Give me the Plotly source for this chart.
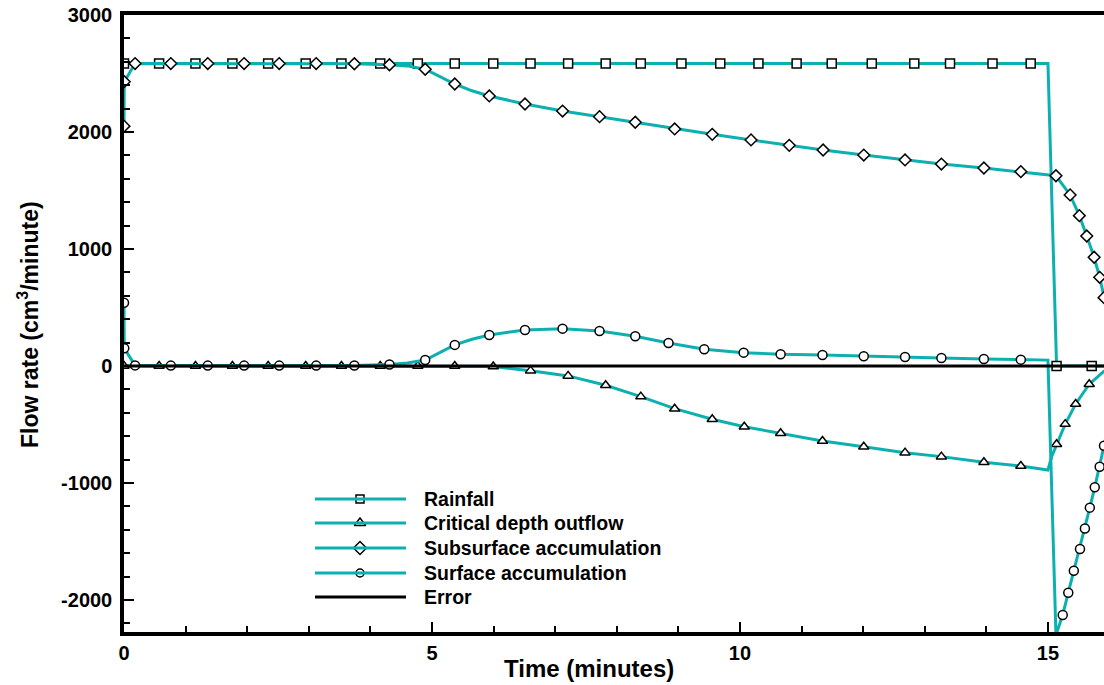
import plotly.graph_objects as go

# ---------------- data ----------------
rain_t = [0, 15.0, 15.14, 15.99]
rain_v = [2585, 2585, 0, 0]
rain_mt = [0, 0.57, 1.16, 1.76, 2.34, 2.95, 3.53, 4.16, 4.77, 5.37, 5.995, 6.6, 7.21,
           7.82, 8.39, 9.05, 9.68, 10.30, 10.92, 11.49, 12.14, 12.83, 13.41, 14.10,
           14.72, 15.14, 15.71]
rain_mv = [2585] * 25 + [0, 0]

crit_t = [0, 5.37, 5.995, 6.6, 7.21, 7.82, 8.39, 8.94, 9.55, 10.07, 10.66, 11.34,
          12.01, 12.68, 13.27, 13.96, 14.56, 15.0, 15.06, 15.14, 15.28, 15.45, 15.67,
          15.90, 15.99]
crit_v = [0, 0, -5, -40, -85, -165, -262, -365, -456, -519, -575, -641, -690, -741,
          -775, -823, -855, -889, -776, -669, -497, -325, -156, -49, -20]
crit_mt = [0, 0.57, 1.16, 1.76, 2.34, 2.95, 3.53, 4.16, 4.77, 5.37, 5.995, 6.6, 7.21,
           7.82, 8.39, 8.94, 9.55, 10.07, 10.66, 11.34, 12.01, 12.68, 13.27, 13.96,
           14.56, 15.14, 15.28, 15.45, 15.67]
crit_mv = [0, 0, 0, 0, 0, 0, 0, 0, 0, 0, -5, -40, -85, -165, -262, -365, -456, -519,
           -575, -641, -690, -741, -775, -823, -855, -669, -497, -325, -156]

sub_t = [0, 0.004, 0.18, 0.76, 1.36, 1.95, 2.52, 3.12, 3.74, 4.31, 4.6, 4.89, 5.1,
         5.37, 5.65, 5.93, 6.51, 7.12, 7.72, 8.30, 8.94, 9.55, 10.18, 10.80, 11.35,
         12.01, 12.68, 13.27, 13.96, 14.56, 15.13, 15.36, 15.51, 15.63, 15.75, 15.84,
         15.91, 15.99]
sub_v = [2050, 2430, 2585, 2585, 2585, 2585, 2585, 2585, 2583, 2575, 2565, 2536, 2480,
         2410, 2352, 2308, 2239, 2179, 2131, 2083, 2026, 1980, 1932, 1886, 1846, 1803,
         1761, 1726, 1692, 1661, 1626, 1462, 1285, 1111, 929, 758, 584, 400]
sub_mt = [0, 0.004, 0.18, 0.76, 1.36, 1.95, 2.52, 3.12, 3.74, 4.31, 4.89, 5.37, 5.93,
          6.51, 7.12, 7.72, 8.30, 8.94, 9.55, 10.18, 10.80, 11.35, 12.01, 12.68, 13.27,
          13.96, 14.56, 15.13, 15.36, 15.51, 15.63, 15.75, 15.84, 15.91]
sub_mv = [2050, 2430, 2585, 2585, 2585, 2585, 2585, 2585, 2583, 2575, 2536, 2410, 2308,
          2239, 2179, 2131, 2083, 2026, 1980, 1932, 1886, 1846, 1803, 1761, 1726, 1692,
          1661, 1626, 1462, 1285, 1111, 929, 758, 584]

surf_t = [0, 0.004, 0.18, 0.76, 1.36, 1.95, 2.52, 3.12, 3.74, 4.31, 4.6, 4.89, 5.1,
          5.37, 5.65, 5.93, 6.51, 7.12, 7.72, 8.30, 8.84, 9.42, 10.06, 10.66, 11.34,
          12.01, 12.68, 13.27, 13.96, 14.56, 15.0, 15.13, 15.24, 15.33, 15.42, 15.52,
          15.60, 15.68, 15.76, 15.84, 15.91, 15.99]
surf_v = [540, 151, 5, 3, 3, 3, 3, 3, 4, 12, 25, 51, 105, 180, 228, 265, 308, 319, 299,
          254, 196, 143, 114, 100, 94, 83, 77, 68, 60, 54, 50, -2300, -2128, -1938,
          -1750, -1564, -1390, -1211, -1037, -861, -682, -500]
surf_mt = [0, 0.004, 0.18, 0.76, 1.36, 1.95, 2.52, 3.12, 3.74, 4.31, 4.89, 5.37, 5.93,
           6.51, 7.12, 7.72, 8.30, 8.84, 9.42, 10.06, 10.66, 11.34, 12.01, 12.68, 13.27,
           13.96, 14.56, 15.24, 15.33, 15.42, 15.52, 15.60, 15.68, 15.76, 15.84, 15.91]
surf_mv = [540, 151, 5, 3, 3, 3, 3, 3, 4, 12, 51, 180, 265, 308, 319, 299, 254, 196,
           143, 114, 100, 94, 83, 77, 68, 60, 54, -2128, -1938, -1750, -1564, -1390,
           -1211, -1037, -861, -682]

err_t = [0, 15.99]
err_v = [0, 0]

legend_names = ["Rainfall", "Critical depth outflow", "Subsurface accumulation",
                "Surface accumulation", "Error"]

x_tick_vals = [0, 5, 10, 15]
x_tick_text = ["0", "5", "10", "15"]
y_tick_vals = [-2000, -1000, 0, 1000, 2000, 3000]
y_tick_text = ["-2000", "-1000", "0", "1000", "2000", "3000"]

# ---------------- styling ----------------
TEAL = "#0DB0B0"
FONT = "Liberation Sans, Arial, sans-serif"
X_RANGE = [0, 15.91]
Y_RANGE = [-2274, 3000]

fig = go.Figure()

series = [
    (rain_t, rain_v, rain_mt, rain_mv, "square", 9),
    (crit_t, crit_v, crit_mt, crit_mv, "triangle-up", 9),
    (sub_t, sub_v, sub_mt, sub_mv, "diamond", 9),
    (surf_t, surf_v, surf_mt, surf_mv, "circle", 9),
]
for t, v, mt, mv, sym, sz in series:
    fig.add_trace(go.Scatter(x=t, y=v, mode="lines", showlegend=False,
                             line=dict(color=TEAL, width=3), hoverinfo="skip"))
    fig.add_trace(go.Scatter(x=mt, y=mv, mode="markers", showlegend=False,
                             marker=dict(symbol=sym, size=sz, color="white",
                                         line=dict(color="black", width=1.5)),
                             hoverinfo="skip"))
fig.add_trace(go.Scatter(x=err_t, y=err_v, mode="lines", showlegend=False,
                         line=dict(color="black", width=3), hoverinfo="skip"))

# ---------------- custom legend ----------------
W, H = 1104, 685
L, T, B = 124, 15, 53
PW, PH = W - L, H - T - B


def px2paper(px, py):
    return (px - L) / PW, (H - B - py) / PH


leg_rows = [499, 523, 548, 573, 597]
leg_syms = ["square", "triangle-up", "diamond", "circle", None]
leg_colors = [TEAL, TEAL, TEAL, TEAL, "black"]
leg_marker_sizes = [8, 10, 10, 8]
lx0, lx1, lmx, ltx = 315, 406, 360, 422
for row, name, col in zip(leg_rows, legend_names, leg_colors):
    x0, y0 = px2paper(lx0, row)
    x1, _ = px2paper(lx1, row)
    fig.add_shape(type="line", xref="paper", yref="paper", x0=x0, x1=x1, y0=y0, y1=y0,
                  line=dict(color=col, width=3))
    tx, _ = px2paper(ltx, row)
    fig.add_annotation(xref="paper", yref="paper", x=tx, y=y0, text=name,
                       showarrow=False, xanchor="left", yanchor="middle",
                       font=dict(family=FONT, size=19.5, color="black", weight="bold"))

for row, sym, sz in zip(leg_rows, leg_syms, leg_marker_sizes):
    mx, my = px2paper(lmx, row)
    fig.add_trace(go.Scatter(x=[mx], y=[my], mode="markers", xaxis="x2", yaxis="y2",
                             showlegend=False, hoverinfo="skip",
                             marker=dict(symbol=sym, size=sz, color="white",
                                         line=dict(color="black", width=1.5))))

# axis titles
fig.add_annotation(xref="paper", yref="paper", x=px2paper(589, 0)[0],
                   y=px2paper(0, 668)[1], text="Time (minutes)", showarrow=False,
                   xanchor="center", yanchor="middle",
                   font=dict(family=FONT, size=24, color="black", weight="bold"))
fig.add_annotation(xref="paper", yref="paper", x=px2paper(28, 0)[0],
                   y=px2paper(0, 325)[1], text="Flow rate (cm<sup>3</sup>/minute)",
                   showarrow=False, textangle=-90, xanchor="center", yanchor="middle",
                   font=dict(family=FONT, size=23, color="black", weight="bold"))

axis_font = dict(family=FONT, size=20, color="black", weight="bold")
fig.update_layout(
    width=W, height=H,
    margin=dict(l=L, r=0, t=T, b=B, pad=0),
    paper_bgcolor="white", plot_bgcolor="white",
    showlegend=False,
    font=dict(family=FONT),
    xaxis=dict(range=X_RANGE, tickmode="array", tickvals=x_tick_vals,
               ticktext=x_tick_text, showgrid=False, zeroline=False,
               showline=True, linecolor="black", linewidth=3.5, mirror=True,
               ticks="inside", ticklen=10, tickwidth=2, tickcolor="black",
               minor=dict(dtick=1, tick0=0, ticks="inside", ticklen=6, tickwidth=1.5,
                          tickcolor="black", showgrid=False),
               tickfont=axis_font, ticklabelstandoff=0),
    yaxis=dict(range=Y_RANGE, tickmode="array", tickvals=y_tick_vals,
               ticktext=y_tick_text, showgrid=False, zeroline=False,
               showline=True, linecolor="black", linewidth=3.5, mirror=False,
               ticks="inside", ticklen=10, tickwidth=2, tickcolor="black",
               minor=dict(dtick=200, tick0=0, ticks="inside", ticklen=6, tickwidth=1.5,
                          tickcolor="black", showgrid=False),
               tickfont=axis_font, ticklabelstandoff=4),
    xaxis2=dict(overlaying="x", range=[0, 1], visible=False, domain=[0, 1]),
    yaxis2=dict(overlaying="y", range=[0, 1], visible=False, domain=[0, 1]),
)

fig.write_html("out.html")
